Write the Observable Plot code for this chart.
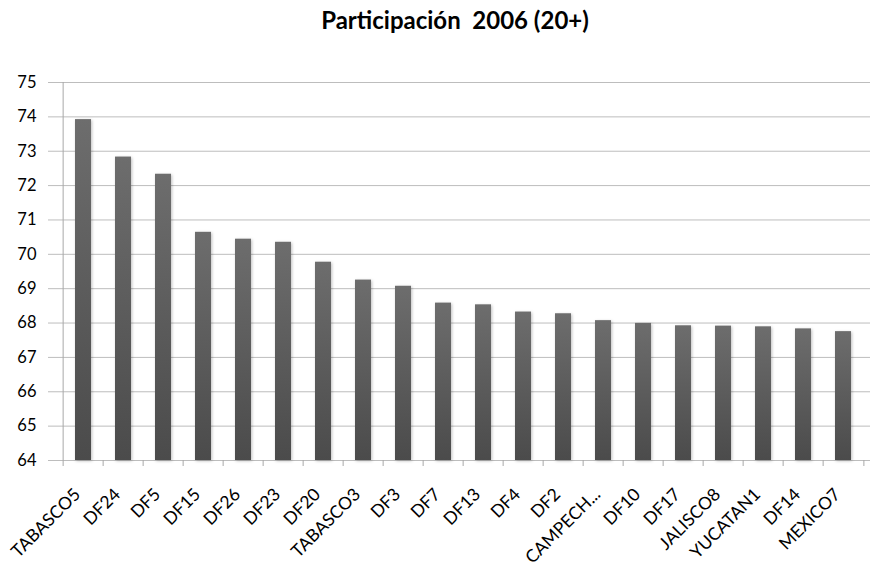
<!DOCTYPE html>
<html>
<head>
<meta charset="utf-8">
<script src="https://cdn.jsdelivr.net/npm/d3@7"></script>
<script src="https://cdn.jsdelivr.net/npm/@observablehq/plot@0.6"></script>
<style>
  html, body { margin: 0; padding: 0; background: #fff; }
  #title {
    box-sizing: border-box;
    width: 885px; height: 45px;
    padding: 6px 0 0 25px;
    text-align: center;
    font-family: Lato, "Open Sans", sans-serif;
    font-weight: bold; font-size: 24px; line-height: 1.2;
    white-space: pre;
    color: #000;
  }
  #chart svg { overflow: visible; }
  #chart svg g[aria-label="bar"] rect {
    filter: drop-shadow(1px 1px 1.5px rgba(0,0,0,0.25));
  }
</style>
</head>
<body>
<div id="title">Participación  2006 (20+)</div>
<div id="chart"></div>
<script>
// Turnout (%) by district, sorted from highest to lowest
const districts = ["TABASCO5", "DF24", "DF5", "DF15", "DF26", "DF23", "DF20", "TABASCO3", "DF3", "DF7",
  "DF13", "DF4", "DF2", "CAMPECH...", "DF10", "DF17", "JALISCO8", "YUCATAN1", "DF14", "MEXICO7"];
const turnout = [73.92, 72.83, 72.33, 70.64, 70.44, 70.35, 69.77, 69.25, 69.07, 68.58,
  68.53, 68.32, 68.27, 68.07, 67.99, 67.92, 67.91, 67.89, 67.83, 67.75];
const yTicks = [64, 65, 66, 67, 68, 69, 70, 71, 72, 73, 74, 75];

const data = districts.map((name, i) => ({name, value: turnout[i]}));

const width = 885, height = 523;
const marginLeft = 55, marginRight = 15, marginTop = 37, marginBottom = 108;
const step = (width - marginLeft - marginRight) / districts.length;
const yMin = yTicks[0], yMax = yTicks[yTicks.length - 1];

const chart = Plot.plot({
  width, height, marginLeft, marginRight, marginTop, marginBottom,
  style: {fontFamily: "Lato, 'Open Sans', sans-serif", fontSize: "16px", color: "#000", background: "#fff"},
  x: {domain: districts, paddingInner: 0.6, paddingOuter: 0.3, label: null},
  y: {domain: [yMin, yMax], label: null},
  marks: [
    Plot.gridY(yTicks, {stroke: "#bdbdbd", strokeOpacity: 1}),
    // vertical axis line on the left edge of the first band
    Plot.ruleX([districts[0]], {dx: -step / 2, stroke: "#a8a8a8"}),
    // category separators below the baseline
    Plot.ruleX(districts, {y1: yMin, y2: yMin, dx: -step / 2, insetBottom: -6, stroke: "#a8a8a8"}),
    Plot.ruleX([districts[districts.length - 1]], {y1: yMin, y2: yMin, dx: step / 2, insetBottom: -6, stroke: "#a8a8a8"}),
    Plot.barY(data, {x: "name", y1: yMin, y2: "value", fill: "url(#barGrad)"}),
    Plot.axisY(yTicks, {tickSize: 7, tickPadding: 12, stroke: "#bdbdbd", fontSize: 16.5}),
    Plot.axisX({tickSize: 0, tickRotate: -45, tickPadding: 24, dx: -6, dy: 7, fontSize: 17.5})
  ]
});

// vertical gray gradient for the bars
const defs = d3.select(chart).insert("defs", ":first-child");
const grad = defs.append("linearGradient")
  .attr("id", "barGrad").attr("x1", 0).attr("y1", 0).attr("x2", 0).attr("y2", 1);
grad.append("stop").attr("offset", "0%").attr("stop-color", "#6d6d6d");
grad.append("stop").attr("offset", "100%").attr("stop-color", "#4b4b4b");

document.getElementById("chart").appendChild(chart);
</script>
</body>
</html>
